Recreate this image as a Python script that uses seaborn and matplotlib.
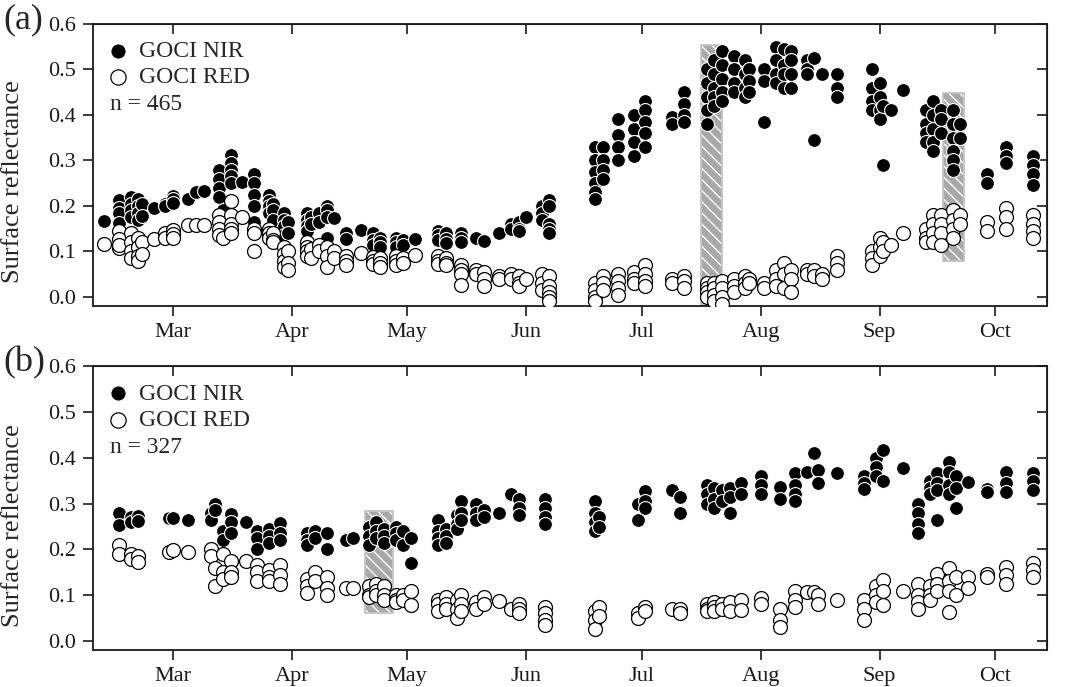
import matplotlib
matplotlib.use("Agg")
import matplotlib.pyplot as plt
import matplotlib.dates as mdates
from matplotlib.patches import Rectangle
import pandas as pd
import seaborn as sns

# ── DATA ────────────────────────────────────────────────────
YEAR = 2013
MONTHS = ["Mar", "Apr", "May", "Jun", "Jul", "Aug", "Sep", "Oct"]
MONTH_STARTS = ["03-01", "04-01", "05-01", "06-01", "07-01", "08-01", "09-01", "10-01"]
Y_TICKS = [0.0, 0.1, 0.2, 0.3, 0.4, 0.5, 0.6]

# panel (a): observation day, NIR values, RED values
a_dates = ["02-11", "02-15", "02-18", "02-20", "02-21", "02-24", "02-27", "03-01",
           "03-05", "03-07", "03-09", "03-13", "03-14", "03-16", "03-19", "03-22",
           "03-26", "03-27", "03-30", "03-31", "04-05", "04-06", "04-08", "04-10",
           "04-12", "04-15", "04-19", "04-22", "04-24", "04-28", "04-30", "05-03",
           "05-09", "05-11", "05-15", "05-19", "05-21", "05-25", "05-28", "05-30",
           "06-01", "06-05", "06-07", "06-19", "06-21", "06-25", "06-29", "07-02",
           "07-09", "07-12", "07-18", "07-20", "07-22", "07-25", "07-28", "07-29",
           "08-02", "08-05", "08-07", "08-09", "08-13", "08-15", "08-17", "08-21",
           "08-30", "09-01", "09-02", "09-04", "09-07", "09-13", "09-15", "09-17",
           "09-20", "09-22", "09-29", "10-04", "10-11"]
a_nir = [[0.167], [0.213, 0.195, 0.184, 0.163], [0.22, 0.205, 0.19, 0.175],
         [0.215, 0.2, 0.185, 0.17], [0.205, 0.178], [0.196], [0.205, 0.2],
         [0.222, 0.215, 0.206], [0.215], [0.23], [0.233], [0.28, 0.26, 0.24, 0.22],
         [0.19], [0.313, 0.295, 0.28, 0.265, 0.25], [0.253],
         [0.27, 0.25, 0.225, 0.2, 0.165], [0.225, 0.21, 0.2, 0.185],
         [0.205, 0.19, 0.17], [0.185, 0.17, 0.155, 0.135], [0.165, 0.14],
         [0.185, 0.17, 0.155, 0.145], [0.175, 0.16], [0.185, 0.165],
         [0.2, 0.19, 0.175, 0.13], [0.174], [0.14, 0.128], [0.147],
         [0.14, 0.125, 0.115], [0.13, 0.12, 0.11], [0.13, 0.12, 0.11], [0.125, 0.115],
         [0.127], [0.145, 0.135, 0.125], [0.14, 0.128, 0.118], [0.14, 0.13, 0.12],
         [0.13], [0.122], [0.14], [0.16, 0.15], [0.165, 0.15, 0.145], [0.176],
         [0.2, 0.185, 0.17], [0.213, 0.2, 0.16, 0.15, 0.14],
         [0.33, 0.3, 0.275, 0.25, 0.23, 0.215], [0.33, 0.3, 0.28, 0.26],
         [0.39, 0.355, 0.33, 0.3], [0.4, 0.37, 0.34, 0.31],
         [0.43, 0.41, 0.385, 0.36, 0.33], [0.396, 0.38], [0.45, 0.425, 0.4, 0.385],
         [0.5, 0.47, 0.44, 0.41, 0.38], [0.52, 0.49, 0.46, 0.44, 0.42],
         [0.54, 0.51, 0.48, 0.45, 0.43], [0.53, 0.5, 0.47, 0.45],
         [0.52, 0.49, 0.46, 0.44], [0.5, 0.475, 0.45], [0.5, 0.475, 0.385],
         [0.55, 0.52, 0.49, 0.47], [0.545, 0.51, 0.49, 0.46], [0.54, 0.52, 0.49, 0.46],
         [0.52, 0.5, 0.49], [0.525, 0.345], [0.49], [0.49, 0.46, 0.44],
         [0.5, 0.46, 0.43, 0.41], [0.47, 0.44, 0.41, 0.39], [0.42, 0.29], [0.41],
         [0.455], [0.41, 0.38, 0.36, 0.34], [0.43, 0.4, 0.37, 0.34, 0.32],
         [0.41, 0.39, 0.36], [0.41, 0.38, 0.35, 0.32, 0.3, 0.28], [0.38, 0.35],
         [0.27, 0.25], [0.33, 0.31, 0.295], [0.31, 0.29, 0.27, 0.245]]
a_red = [[0.116], [0.145, 0.127, 0.107, 0.115], [0.14, 0.12, 0.1, 0.085],
         [0.13, 0.11, 0.09, 0.078], [0.12, 0.095], [0.128], [0.14, 0.13],
         [0.148, 0.138, 0.13], [0.158], [0.158], [0.158], [0.18, 0.165, 0.15, 0.135],
         [0.13], [0.21, 0.18, 0.16, 0.15, 0.14], [0.175], [0.15, 0.14, 0.1],
         [0.15, 0.14, 0.13], [0.14, 0.125, 0.12], [0.11, 0.095, 0.08, 0.065],
         [0.1, 0.075, 0.06], [0.12, 0.11, 0.1, 0.09], [0.105, 0.085], [0.115, 0.1],
         [0.11, 0.09, 0.066], [0.1, 0.085], [0.09, 0.08, 0.07], [0.097],
         [0.088, 0.08, 0.072], [0.085, 0.075, 0.066], [0.09, 0.08, 0.07],
         [0.085, 0.075], [0.092], [0.09, 0.08, 0.072], [0.085, 0.075, 0.07],
         [0.07, 0.06, 0.05, 0.026], [0.06, 0.05], [0.055, 0.04, 0.025], [0.045, 0.04],
         [0.05, 0.04], [0.045, 0.03, 0.025], [0.04], [0.05, 0.03, 0.015],
         [0.045, 0.025, 0.01, 0.0, -0.01], [0.03, 0.015, 0.0, -0.01],
         [0.045, 0.03, 0.015], [0.05, 0.035, 0.02, 0.005], [0.055, 0.04, 0.03],
         [0.07, 0.05, 0.035, 0.025], [0.04, 0.03], [0.045, 0.035, 0.02],
         [0.03, 0.02, 0.01, 0.0], [0.03, 0.02, 0.005, -0.01], [0.035, 0.02, 0.0, -0.015],
         [0.04, 0.025, 0.01], [0.045, 0.03, 0.02], [0.04, 0.03], [0.03, 0.02],
         [0.06, 0.04, 0.025], [0.075, 0.05, 0.02], [0.06, 0.04, 0.01], [0.06, 0.05],
         [0.06, 0.045], [0.05, 0.04], [0.09, 0.075, 0.06], [0.1, 0.085, 0.07],
         [0.13, 0.11, 0.09], [0.12, 0.1], [0.115], [0.14], [0.15, 0.13, 0.12],
         [0.18, 0.16, 0.14, 0.12], [0.18, 0.16, 0.14, 0.115], [0.19, 0.17, 0.15, 0.13],
         [0.18, 0.16], [0.165, 0.145], [0.195, 0.175, 0.15], [0.18, 0.16, 0.145, 0.13]]

# panel (b)
b_dates = ["02-15", "02-18", "02-20", "02-28", "03-01", "03-05", "03-11", "03-12",
           "03-14", "03-16", "03-20", "03-23", "03-26", "03-29", "04-05", "04-07",
           "04-10", "04-15", "04-17", "04-21", "04-23", "04-25", "04-28", "04-30",
           "05-02", "05-09", "05-11", "05-14", "05-15", "05-19", "05-21", "05-25",
           "05-28", "05-30", "06-06", "06-19", "06-20", "06-30", "07-02", "07-09",
           "07-11", "07-18", "07-20", "07-22", "07-24", "07-27", "08-01", "08-06",
           "08-10", "08-13", "08-15", "08-16", "08-21", "08-28", "08-31", "09-02",
           "09-07", "09-11", "09-14", "09-16", "09-19", "09-21", "09-24", "09-29",
           "10-04", "10-11"]
b_nir = [[0.28, 0.254], [0.27, 0.26], [0.272, 0.262], [0.268], [0.268], [0.265],
         [0.28, 0.265], [0.3, 0.285, 0.19], [0.24, 0.22], [0.277, 0.26, 0.235],
         [0.26], [0.24, 0.225, 0.2], [0.245, 0.23, 0.215], [0.258, 0.235, 0.22],
         [0.235, 0.22, 0.21], [0.24, 0.225], [0.235, 0.2], [0.22], [0.225],
         [0.25, 0.23, 0.21], [0.26, 0.24, 0.225], [0.245, 0.23, 0.215],
         [0.25, 0.235, 0.22], [0.24, 0.21], [0.225, 0.17], [0.265, 0.24, 0.225, 0.21],
         [0.245, 0.23, 0.215], [0.275, 0.255, 0.245], [0.305, 0.28, 0.265],
         [0.3, 0.28, 0.265], [0.285, 0.27], [0.28], [0.32], [0.31, 0.29, 0.275],
         [0.31, 0.29, 0.27, 0.255], [0.305, 0.28, 0.26, 0.24], [0.27, 0.25],
         [0.3, 0.265], [0.327, 0.305, 0.29], [0.33], [0.315, 0.28], [0.34, 0.32, 0.3],
         [0.335, 0.31, 0.29], [0.33, 0.305], [0.335, 0.315, 0.28], [0.345, 0.32],
         [0.36, 0.34, 0.32], [0.337, 0.31], [0.366, 0.34, 0.32, 0.305], [0.37],
         [0.41], [0.373, 0.345], [0.368], [0.36, 0.345, 0.333], [0.4, 0.38, 0.36],
         [0.417, 0.35], [0.377], [0.3, 0.28, 0.255, 0.235], [0.35, 0.335, 0.32],
         [0.366, 0.345, 0.33, 0.265], [0.39, 0.37, 0.34, 0.32], [0.36, 0.335, 0.29],
         [0.348], [0.333, 0.325], [0.37, 0.345, 0.326], [0.366, 0.35, 0.33]]
b_red = [[0.21, 0.19], [0.19, 0.18], [0.185, 0.172], [0.195], [0.198], [0.195],
         [0.2, 0.185], [0.16, 0.12], [0.19, 0.15, 0.135], [0.175, 0.15, 0.14],
         [0.175], [0.165, 0.15, 0.13], [0.155, 0.14, 0.13], [0.165, 0.145, 0.125],
         [0.135, 0.12, 0.105], [0.15, 0.13], [0.14, 0.115, 0.1], [0.115], [0.115],
         [0.12, 0.1, 0.095], [0.125, 0.11, 0.1], [0.12, 0.1, 0.09], [0.1, 0.09, 0.085],
         [0.1, 0.09], [0.108, 0.078], [0.09, 0.08, 0.065], [0.095, 0.08, 0.07],
         [0.09, 0.07, 0.05], [0.1, 0.08, 0.065], [0.085, 0.07], [0.095, 0.08],
         [0.087], [0.07], [0.08, 0.07, 0.06], [0.075, 0.06, 0.045, 0.035],
         [0.065, 0.045, 0.025], [0.075, 0.055], [0.06, 0.05], [0.075, 0.065], [0.07],
         [0.07, 0.06], [0.08, 0.07, 0.065], [0.085, 0.075, 0.065], [0.08, 0.07],
         [0.085, 0.065], [0.09, 0.067], [0.093, 0.08], [0.07, 0.045, 0.03],
         [0.11, 0.09, 0.075], [0.107], [0.107], [0.1, 0.08], [0.09],
         [0.09, 0.07, 0.045], [0.12, 0.1, 0.085], [0.133, 0.11, 0.078], [0.11],
         [0.125, 0.1, 0.085, 0.07], [0.12, 0.1, 0.09], [0.147, 0.125, 0.11],
         [0.16, 0.13, 0.11, 0.063], [0.14, 0.1], [0.14, 0.115], [0.147, 0.14],
         [0.162, 0.145, 0.125], [0.17, 0.155, 0.14]]

# hatched highlight windows: start, end, ymin, ymax
a_boxes = [("07-16 12:00", "07-22 00:00", -0.02, 0.553),
           ("09-17 12:00", "09-23 00:00", 0.079, 0.448)]
b_boxes = [("04-19 22:00", "04-27 05:00", 0.061, 0.283)]

PANELS = [("(a)", a_dates, a_nir, a_red, a_boxes, 465),
          ("(b)", b_dates, b_nir, b_red, b_boxes, 327)]

# ── STYLE ───────────────────────────────────────────────────
sns.set_style("ticks")
plt.rcParams["font.family"] = ["Liberation Serif", "DejaVu Serif"]
plt.rcParams["hatch.linewidth"] = 1.0


def to_frame(dates, nir, red):
    rows = []
    for d, nv, rv in zip(dates, nir, red):
        rows += [(d, "GOCI NIR", v) for v in nv]
        rows += [(d, "GOCI RED", v) for v in rv]
    df = pd.DataFrame(rows, columns=["date", "band", "refl"])
    df["date"] = pd.to_datetime(f"{YEAR}-" + df["date"])
    return df


def stamp(md):
    return pd.Timestamp(f"{YEAR}-{md}")


fig = plt.figure(figsize=(10.68, 6.87), dpi=100)
axes = [fig.add_axes([0.0871, 0.5546, 0.8933, 0.4105]),
        fig.add_axes([0.0871, 0.0539, 0.8933, 0.4127])]

month_ticks = [stamp(m) for m in MONTH_STARTS]
month_nums = mdates.date2num(month_ticks)

for ax, (tag, dates, nir, red, boxes, n) in zip(axes, PANELS):
    df = to_frame(dates, nir, red)

    for start, end, y0, y1 in boxes:
        x0 = mdates.date2num(stamp(start))
        w = mdates.date2num(stamp(end)) - x0
        ax.add_patch(Rectangle((x0, y0), w, y1 - y0, facecolor="#a8a8a8",
                               edgecolor="white", hatch="\\\\\\", lw=0, zorder=1))
        ax.add_patch(Rectangle((x0, y0), w, y1 - y0, fill=False,
                               edgecolor="#c4c4c4", lw=1.3, zorder=1.5))

    sns.scatterplot(data=df[df["band"] == "GOCI NIR"], x="date", y="refl", ax=ax,
                    color="black", edgecolor="white", linewidth=0.8, s=100,
                    label="GOCI NIR", zorder=3)
    sns.scatterplot(data=df[df["band"] == "GOCI RED"], x="date", y="refl", ax=ax,
                    color="white", edgecolor="black", linewidth=0.9, s=100,
                    label="GOCI RED", zorder=3)

    ax.set_xlim(pd.Timestamp(f"{YEAR}-02-08 05:00"), pd.Timestamp(f"{YEAR}-10-14 14:00"))
    ax.set_ylim(-0.02, 0.6)
    ax.set_xticks(month_ticks)
    ax.set_xticklabels(MONTHS)
    ax.set_yticks(Y_TICKS)
    ax.set_yticklabels([f"{v:.1f}" for v in Y_TICKS])
    ax.tick_params(direction="out", length=7, width=1.2, labelsize=16, pad=5,
                   colors="#1a1a1a")
    ax.set_xlabel("")
    ax.set_ylabel("Surface reflectance", fontsize=19)
    ax.yaxis.set_label_coords(-0.072, 0.44)
    for sp in ax.spines.values():
        sp.set_linewidth(1.3)
        sp.set_color("#1a1a1a")

    top = ax.secondary_xaxis("top")
    top.set_xticks(month_nums)
    top.set_xticklabels([])
    top.tick_params(direction="in", length=7, width=1.2, colors="#1a1a1a")
    right = ax.secondary_yaxis("right")
    right.set_yticks(Y_TICKS)
    right.set_yticklabels([])
    right.tick_params(direction="in", length=7, width=1.2, colors="#1a1a1a")

    ax.legend(loc="upper left", frameon=False, fontsize=17, handlelength=1.0,
              handletextpad=0.4, labelspacing=0.2, borderaxespad=0.3,
              markerscale=1.1, bbox_to_anchor=(-0.004, 1.0))
    ax.text(0.018, 0.715, f"n = {n}", transform=ax.transAxes, fontsize=17,
            va="center", ha="left")

    bb = ax.get_position()
    fig.text(0.003, bb.y1 + 0.006, tag, fontsize=26, va="center", ha="left")

fig.savefig("out.png", dpi=100)
